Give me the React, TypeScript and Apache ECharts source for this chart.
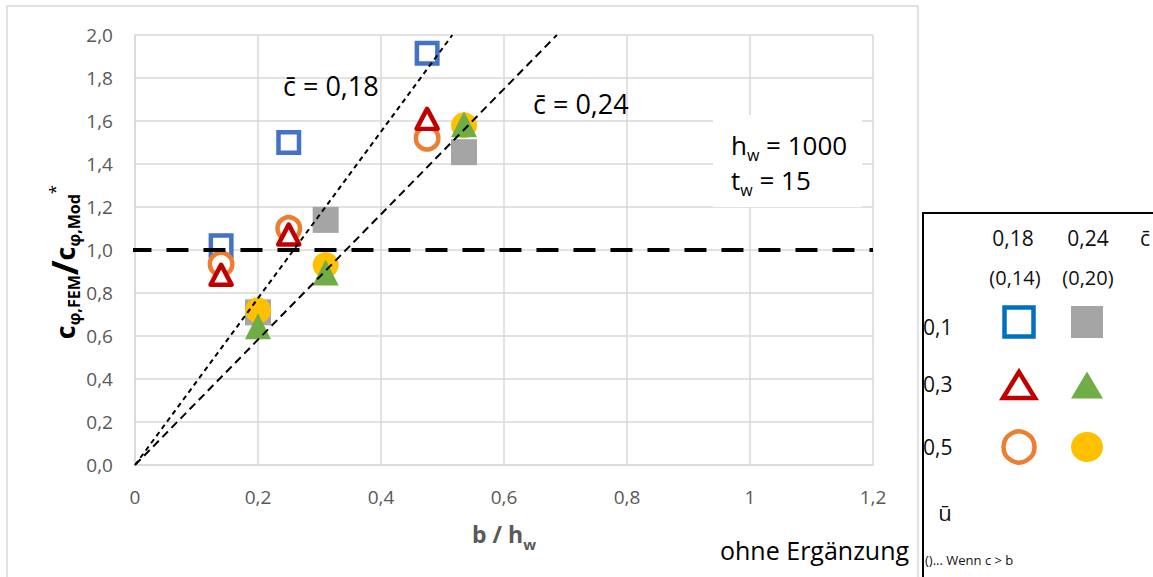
import React, { useEffect, useRef } from "react";
import * as echarts from "echarts";

// ---- data ----
const xTicks = [0, 0.2, 0.4, 0.6, 0.8, 1, 1.2];
const yTicks = [0, 0.2, 0.4, 0.6, 0.8, 1.0, 1.2, 1.4, 1.6, 1.8, 2.0];

// c = 0,18 (open markers)
const blueSquares = [[0.14, 1.02], [0.25, 1.5], [0.475, 1.915]];
const redTriangles = [[0.14, 0.885], [0.25, 1.072], [0.475, 1.61]];
const orangeCircles = [[0.14, 0.935], [0.25, 1.1], [0.475, 1.52]];
// c = 0,24 (filled markers)
const greySquares = [[0.2, 0.71], [0.31, 1.14], [0.535, 1.455]];
const greenTriangles = [[0.2, 0.645], [0.31, 0.895], [0.535, 1.585]];
const yellowCircles = [[0.2, 0.72], [0.31, 0.93], [0.535, 1.58]];

// reference lines
const line018 = [[0, 0], [0.516, 2.0]];
const line024 = [[0, 0], [0.686, 2.0]];
const unityLine = [[-0.009, 1.0], [1.2, 1.0]];

const FONT = "'Open Sans', Lato, sans-serif";
const GREY = "#595959";
const GRIDC = "#D9D9D9";

export default function App() {
  const ref = useRef<HTMLDivElement>(null);

  useEffect(() => {
    document.body.style.margin = "0";
    if (!ref.current) return;
    const chart = echarts.init(ref.current, undefined, { renderer: "svg" });

    const open = (color: string) => ({ color: "#ffffff", borderColor: color, borderWidth: 4.5, opacity: 1 });
    const filled = (color: string) => ({ color, borderWidth: 0, opacity: 1 });

    const sub = { fontFamily: FONT, fontSize: 16, verticalAlign: "bottom", color: "#000" };
    const main = { fontFamily: FONT, fontSize: 26, lineHeight: 36, color: "#000" };

    const option: any = {
      animation: false,
      backgroundColor: "#ffffff",
      textStyle: { fontFamily: FONT },
      grid: { left: 135, right: 280, top: 35, bottom: 112, containLabel: false },
      xAxis: {
        type: "value",
        min: xTicks[0],
        max: xTicks[xTicks.length - 1],
        interval: 0.2,
        axisLine: { show: true, lineStyle: { color: GRIDC, width: 1.5 } },
        axisTick: { show: false },
        splitLine: { show: true, lineStyle: { color: GRIDC, width: 1.5 } },
        axisLabel: {
          color: GREY,
          fontSize: 19,
          fontFamily: FONT,
          margin: 22,
          formatter: (v: number) => String(Math.round(v * 10) / 10).replace(".", ","),
        },
        name: "{b|b / h}{s|w}",
        nameLocation: "middle",
        nameGap: 52,
        nameTextStyle: {
          rich: {
            b: { fontFamily: FONT, fontSize: 23, fontWeight: "bold", color: GREY, lineHeight: 34 },
            s: { fontFamily: FONT, fontSize: 15, fontWeight: "bold", color: GREY, verticalAlign: "bottom" },
          },
        },
      },
      yAxis: {
        type: "value",
        min: yTicks[0],
        max: yTicks[yTicks.length - 1],
        interval: 0.2,
        axisLine: { show: true, lineStyle: { color: GRIDC, width: 1.5 } },
        axisTick: { show: false },
        splitLine: { show: true, lineStyle: { color: GRIDC, width: 1.5 } },
        axisLabel: {
          color: GREY,
          fontSize: 19,
          fontFamily: FONT,
          margin: 22,
          formatter: (v: number) => v.toFixed(1).replace(".", ","),
        },
      },
      series: [
        { name: "0,18 / 0,1", type: "scatter", z: 2, symbol: "rect", symbolSize: 20.5, itemStyle: open("#4472C4"), data: blueSquares },
        { name: "0,24 / 0,1", type: "scatter", z: 2, symbol: "rect", symbolSize: 26, itemStyle: filled("#A5A5A5"), data: greySquares },
        { name: "0,18 / 0,5", type: "scatter", z: 2, symbol: "circle", symbolSize: 22.5, itemStyle: open("#ED7D31"), data: orangeCircles },
        { name: "0,24 / 0,5", type: "scatter", z: 2, symbol: "circle", symbolSize: 26, itemStyle: filled("#FFC000"), data: yellowCircles },
        { name: "0,18 / 0,3", type: "scatter", z: 2, symbol: "triangle", symbolSize: [21, 20], itemStyle: { ...open("#C00000"), borderJoin: "round" }, data: redTriangles },
        { name: "0,24 / 0,3", type: "scatter", z: 2, symbol: "triangle", symbolSize: 26, itemStyle: filled("#70AD47"), data: greenTriangles },
        { name: "c 0,18", type: "line", z: 3, symbol: "none", silent: true, lineStyle: { color: "#000", width: 2, type: [5, 4] }, data: line018 },
        { name: "c 0,24", type: "line", z: 3, symbol: "none", silent: true, lineStyle: { color: "#000", width: 2, type: [8, 5] }, data: line024 },
        { name: "1,0", type: "line", z: 4, symbol: "none", silent: true, clip: false, lineStyle: { color: "#000", width: 4, type: [22, 15] }, data: unityLine },
      ],
      graphic: [
        // outer chart border
        { type: "rect", z: -1, shape: { x: 7, y: 6, width: 911, height: 620 }, style: { fill: "none", stroke: GRIDC, lineWidth: 1.5 } },
        // y axis title
        {
          type: "text",
          x: 64,
          y: 262,
          rotation: Math.PI / 2,
          style: {
            text: "{c|c}{s|φ,FEM}{sl|/}{c|c}{s|φ,Mod}{sup|*}",
            align: "center",
            verticalAlign: "middle",
            rich: {
              c: { fontFamily: FONT, fontSize: 27, fontWeight: "bold", color: GREY, lineHeight: 36 },
              s: { fontFamily: FONT, fontSize: 16, fontWeight: "bold", color: GREY, verticalAlign: "bottom" },
              sl: { fontFamily: FONT, fontSize: 36, fontWeight: "bold", color: GREY, lineHeight: 36 },
              sup: { fontFamily: FONT, fontSize: 17, color: GREY, verticalAlign: "top" },
            },
          },
        },
        // annotations
        { type: "text", x: 283, y: 85, z: 10, style: { text: "c\u0304 = 0,18", font: `27px ${FONT}`, fill: "#000", verticalAlign: "middle" } },
        { type: "text", x: 533, y: 103, z: 10, style: { text: "c\u0304 = 0,24", font: `27px ${FONT}`, fill: "#000", verticalAlign: "middle" } },
        // parameter box
        { type: "rect", z: 10, shape: { x: 713, y: 115, width: 149, height: 92 }, style: { fill: "#ffffff" } },
        {
          type: "text", x: 731, y: 145, z: 11,
          style: { text: "{m|h}{s|w}{m| = 1000}", verticalAlign: "middle", rich: { m: main, s: sub } },
        },
        {
          type: "text", x: 731, y: 180, z: 11,
          style: { text: "{m|t}{s|w}{m| = 15}", verticalAlign: "middle", rich: { m: main, s: sub } },
        },
        // "ohne Ergänzung"
        { type: "text", x: 720, y: 550, z: 10, style: { text: "ohne Ergänzung", font: `25px ${FONT}`, fill: "#000", verticalAlign: "middle" } },
        // legend box
        { type: "rect", z: 10, shape: { x: 923, y: 213, width: 250, height: 400 }, style: { fill: "#ffffff", stroke: "#000", lineWidth: 2 } },
        { type: "text", z: 11, x: 1013, y: 238, style: { text: "0,18", font: `21px ${FONT}`, fill: "#111", align: "center", verticalAlign: "middle" } },
        { type: "text", z: 11, x: 1088, y: 238, style: { text: "0,24", font: `21px ${FONT}`, fill: "#111", align: "center", verticalAlign: "middle" } },
        { type: "text", z: 11, x: 1140, y: 238, style: { text: "c\u0304", font: `21px ${FONT}`, fill: "#111", verticalAlign: "middle" } },
        { type: "text", z: 11, x: 1015, y: 277, style: { text: "(0,14)", font: `20px ${FONT}`, fill: "#111", align: "center", verticalAlign: "middle" } },
        { type: "text", z: 11, x: 1088, y: 277, style: { text: "(0,20)", font: `20px ${FONT}`, fill: "#111", align: "center", verticalAlign: "middle" } },
        { type: "text", z: 11, x: 923, y: 327, style: { text: "0,1", font: `21px ${FONT}`, fill: "#111", verticalAlign: "middle" } },
        { type: "text", z: 11, x: 923, y: 384, style: { text: "0,3", font: `21px ${FONT}`, fill: "#111", verticalAlign: "middle" } },
        { type: "text", z: 11, x: 923, y: 447, style: { text: "0,5", font: `21px ${FONT}`, fill: "#111", verticalAlign: "middle" } },
        { type: "text", z: 11, x: 945, y: 512, style: { text: "u\u0304", font: `22px ${FONT}`, fill: "#111", align: "center", verticalAlign: "middle" } },
        { type: "text", z: 11, x: 925, y: 560, style: { text: "()... Wenn c > b", font: `13px ${FONT}`, fill: "#111", verticalAlign: "middle" } },
        // legend symbols
        { type: "rect", z: 11, shape: { x: 1004.5, y: 307.5, width: 29, height: 29 }, style: { fill: "#fff", stroke: "#0070C0", lineWidth: 4.5 } },
        { type: "rect", z: 11, shape: { x: 1071, y: 306, width: 32, height: 32 }, style: { fill: "#A5A5A5" } },
        { type: "polygon", z: 11, shape: { points: [[1019, 372], [1003, 398], [1035, 398]] }, style: { fill: "#fff", stroke: "#C00000", lineWidth: 4.5 } },
        { type: "polygon", z: 11, shape: { points: [[1087, 371.5], [1071, 398.5], [1103, 398.5]] }, style: { fill: "#70AD47" } },
        { type: "circle", z: 11, shape: { cx: 1019, cy: 447, r: 15.5 }, style: { fill: "#fff", stroke: "#ED7D31", lineWidth: 4.5 } },
        { type: "ellipse", z: 11, shape: { cx: 1087, cy: 447, rx: 16, ry: 15 }, style: { fill: "#FFC000" } },
      ],
    };

    chart.setOption(option);
    return () => chart.dispose();
  }, []);

  return <div ref={ref} style={{ width: 1153, height: 577 }} />;
}
